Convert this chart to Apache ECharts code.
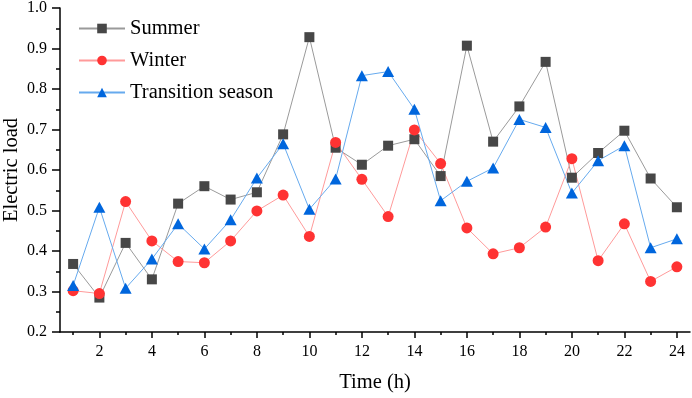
<!DOCTYPE html>
<html>
<head>
<meta charset="utf-8">
<script src="https://cdn.jsdelivr.net/npm/echarts@6/dist/echarts.min.js"></script>
<style>
  html, body { margin: 0; padding: 0; background: #fff; }
  #chart { width: 692px; height: 398px; }
</style>
</head>
<body>
<div id="chart"></div>
<script>
// data
var hours = [1, 2, 3, 4, 5, 6, 7, 8, 9, 10, 11, 12, 13, 14, 15, 16, 17, 18, 19, 20, 21, 22, 23, 24];
var summer = [0.368, 0.285, 0.420, 0.330, 0.517, 0.560, 0.527, 0.545, 0.688, 0.928, 0.655, 0.613,
              0.660, 0.676, 0.585, 0.907, 0.670, 0.757, 0.867, 0.581, 0.642, 0.697, 0.579, 0.508];
var winter = [0.302, 0.295, 0.522, 0.425, 0.374, 0.371, 0.425, 0.499, 0.538, 0.436, 0.668, 0.577,
              0.485, 0.699, 0.616, 0.457, 0.393, 0.408, 0.459, 0.628, 0.376, 0.467, 0.325, 0.361];
var transition = [0.315, 0.508, 0.308, 0.380, 0.467, 0.405, 0.477, 0.580, 0.665, 0.503, 0.578, 0.833,
                  0.843, 0.750, 0.524, 0.572, 0.605, 0.725, 0.705, 0.543, 0.623, 0.660, 0.408, 0.430];
var majorTicks = [2, 4, 6, 8, 10, 12, 14, 16, 18, 20, 22, 24];
var minorTicks = [1, 3, 5, 7, 9, 11, 13, 15, 17, 19, 21, 23];

function pairs(vals) {
  return hours.map(function (h, i) { return [h, vals[i]]; });
}

var font = 'Liberation Serif';
var myChart = echarts.init(document.getElementById('chart'));

function mkSeries(name, vals, symbol, size, fill, line) {
  return {
    name: name,
    type: 'line',
    data: pairs(vals),
    symbol: symbol,
    symbolSize: size,
    showAllSymbol: true,
    itemStyle: { color: fill },
    lineStyle: { color: line, width: 1 },
    emphasis: { disabled: true },
    animation: false
  };
}

myChart.setOption({
  animation: false,
  grid: { left: 60, right: 2, top: 7, bottom: 64 },
  legend: {
    orient: 'vertical',
    left: 73,
    top: 13,
    itemWidth: 46,
    itemHeight: 12,
    itemGap: 11,
    textStyle: { fontFamily: font, fontSize: 20.5, color: '#000', lineHeight: 20 },
    data: ['Summer', 'Winter', 'Transition season']
  },
  xAxis: [{
    type: 'value',
    min: 0.5,
    max: 24.5,
    name: 'Time (h)',
    nameLocation: 'middle',
    nameGap: 40,
    nameTextStyle: { fontFamily: font, fontSize: 20.5, color: '#000' },
    axisLine: { show: true, lineStyle: { color: '#000', width: 1.5 } },
    axisTick: { show: true, customValues: majorTicks, length: 6, lineStyle: { color: '#000', width: 1.5 } },
    axisLabel: { customValues: majorTicks, margin: 12, fontFamily: font, fontSize: 16, color: '#000' },
    splitLine: { show: false }
  }, {
    type: 'value',
    position: 'bottom',
    min: 0.5,
    max: 24.5,
    axisLine: { show: false },
    axisTick: { show: true, customValues: minorTicks, length: 3, lineStyle: { color: '#000', width: 1.5 } },
    axisLabel: { show: false },
    splitLine: { show: false }
  }],
  yAxis: {
    type: 'value',
    min: 0.2,
    max: 1.0,
    interval: 0.1,
    axisLine: { show: true, lineStyle: { color: '#000', width: 1.5 } },
    axisTick: { show: true, length: 8, lineStyle: { color: '#000', width: 1.5 } },
    minorTick: { show: true, splitNumber: 2, length: 4, lineStyle: { color: '#000', width: 1.5 } },
    axisLabel: {
      margin: 13, fontFamily: font, fontSize: 16, color: '#000',
      formatter: function (v) { return v.toFixed(1); }
    },
    splitLine: { show: false }
  },
  graphic: [{
    type: 'text',
    x: 12,
    y: 170,
    rotation: Math.PI / 2,
    style: {
      text: 'Electric load',
      font: '20.5px "Liberation Serif"',
      fill: '#000',
      align: 'center',
      verticalAlign: 'middle'
    }
  }],
  series: [
    mkSeries('Summer', summer, 'rect', 10, '#474747', '#9a9a9a'),
    mkSeries('Winter', winter, 'circle', 11, '#ff3333', '#ff9a9a'),
    mkSeries('Transition season', transition, 'triangle', [12, 11], '#0066dd', '#66aaee')
  ]
});

window.addEventListener('resize', function () {
  myChart.resize();
});
</script>
</body>
</html>
